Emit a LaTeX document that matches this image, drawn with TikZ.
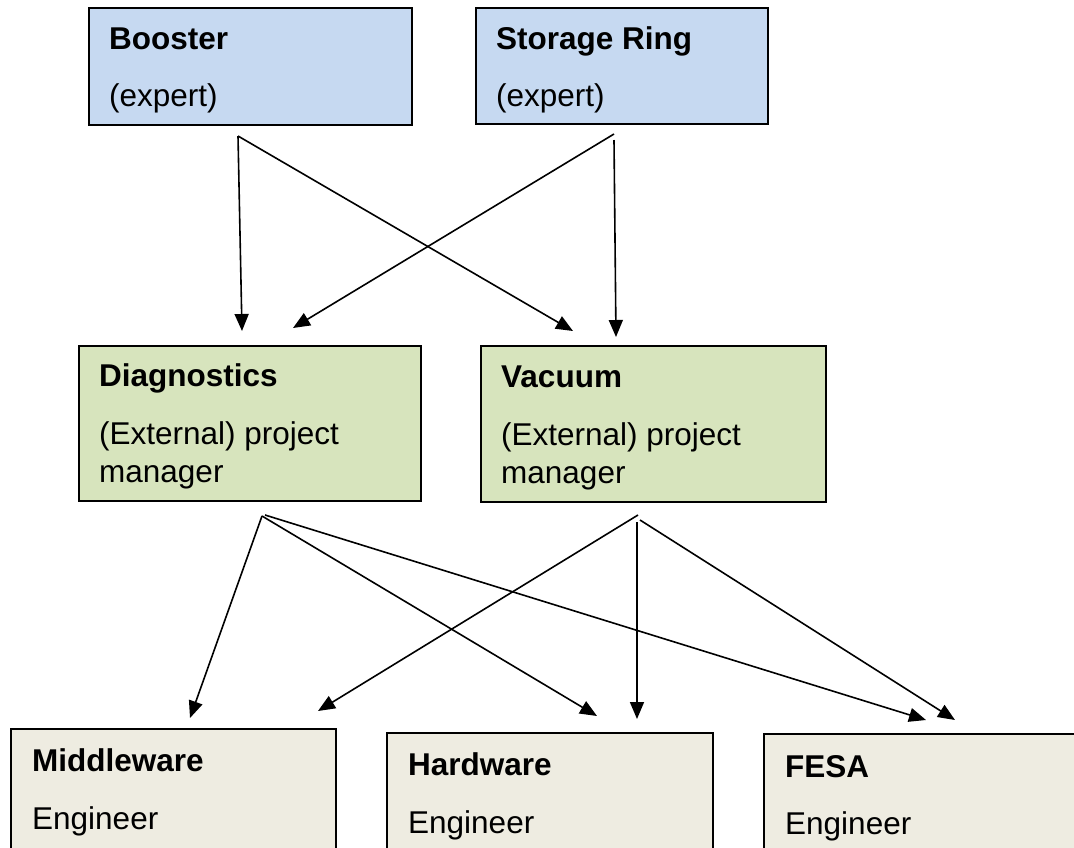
\documentclass[tikz,border=0pt]{standalone}
\usepackage{fontspec}
\setmainfont{Liberation Sans}
\usetikzlibrary{arrows.meta}
\definecolor{expertblue}{HTML}{C6D9F1}
\definecolor{managergreen}{HTML}{D7E4BD}
\definecolor{engbeige}{HTML}{EEECE1}
\begin{document}
\begin{tikzpicture}[x=1pt,y=-1pt,
  box/.style={draw=black, line width=1.8pt, anchor=north west, inner sep=0pt, outer sep=0pt},
  txt/.style={anchor=base west, inner sep=0pt, font=\fontsize{31.5}{36}\selectfont},
  ttl/.style={anchor=base west, inner sep=0pt, font=\fontsize{31.5}{36}\selectfont\bfseries},
  link/.style={line width=1.6pt, -{Triangle[length=17pt,width=14pt]}}]

\useasboundingbox (0,0) rectangle (1074,847);
\clip (0,0) rectangle (1074,847);

% top row: experts
\node[box, fill=expertblue, minimum width=323pt, minimum height=117pt] (booster) at (89,8) {};
\node[ttl] (boosterT) at (109,49) {Booster};
\node[txt] (boosterS) at (109,106) {(expert)};

\node[box, fill=expertblue, minimum width=292pt, minimum height=116pt] (ring) at (476,8) {};
\node[ttl] (ringT) at (496,49) {Storage Ring};
\node[txt] (ringS) at (496,106) {(expert)};

% middle row: project managers
\node[box, fill=managergreen, minimum width=342pt, minimum height=155pt] (diag) at (79,346) {};
\node[ttl] (diagT) at (99,386) {Diagnostics};
\node[txt] (diagS) at (99,444) {(External) project};
\node[txt] (diagU) at (99,482) {manager};

\node[box, fill=managergreen, minimum width=345pt, minimum height=156pt] (vac) at (481,346) {};
\node[ttl] (vacT) at (501,387) {Vacuum};
\node[txt] (vacS) at (501,445) {(External) project};
\node[txt] (vacU) at (501,483) {manager};

% bottom row: engineers
\node[box, fill=engbeige, minimum width=325pt, minimum height=160pt] (mid) at (11,729) {};
\node[ttl] (midT) at (32,771) {Middleware};
\node[txt] (midS) at (32,829) {Engineer};

\node[box, fill=engbeige, minimum width=326pt, minimum height=160pt] (hw) at (387,733) {};
\node[ttl] (hwT) at (408,775) {Hardware};
\node[txt] (hwS) at (408,833) {Engineer};

\node[box, fill=engbeige, minimum width=340pt, minimum height=160pt] (fesa) at (764,734) {};
\node[ttl] (fesaT) at (785,777) {FESA};
\node[txt] (fesaS) at (785,834) {Engineer};

% connector end points
\coordinate (bOut) at (238,136);
\coordinate (rOutA) at (614,134);
\coordinate (rOutB) at (614,140);
\coordinate (dInA) at (242,331);
\coordinate (dInB) at (293,328);
\coordinate (vInA) at (573,331);
\coordinate (vInB) at (616,337);

\coordinate (dOut) at (262,516);
\coordinate (dOutB) at (265,515);
\coordinate (vOut) at (638,515);
\coordinate (vOutB) at (637,522);
\coordinate (vOutC) at (640,520);
\coordinate (mInA) at (190,718);
\coordinate (mInB) at (318,711);
\coordinate (hInA) at (597,716);
\coordinate (hInB) at (637,719);
\coordinate (fInA) at (926,720);
\coordinate (fInB) at (955,720);

% experts to managers
\draw[link] (bOut) -- (dInA);
\draw[link] (bOut) -- (vInA);
\draw[link] (rOutA) -- (dInB);
\draw[link] (rOutB) -- (vInB);

% managers to engineers
\draw[link] (dOut) -- (mInA);
\draw[link] (dOut) -- (hInA);
\draw[link] (dOutB) -- (fInA);
\draw[link] (vOut) -- (mInB);
\draw[link] (vOutB) -- (hInB);
\draw[link] (vOutC) -- (fInB);
\end{tikzpicture}
\end{document}
